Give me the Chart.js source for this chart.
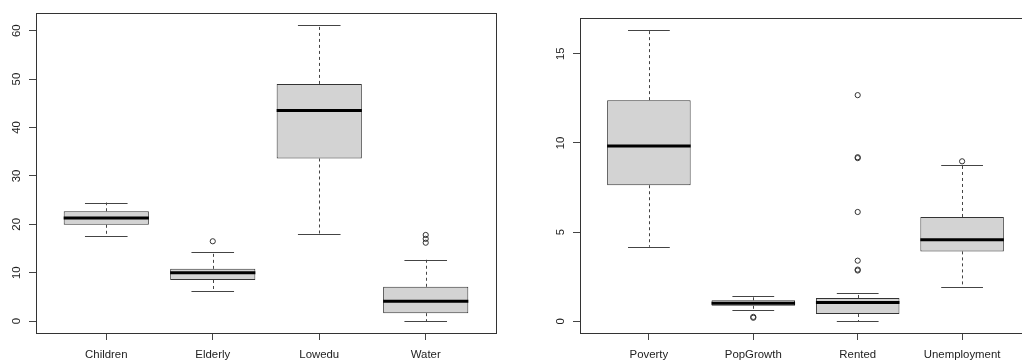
<!DOCTYPE html>
<html>
<head>
<meta charset="utf-8">
<script src="https://cdn.jsdelivr.net/npm/chart.js@4/dist/chart.umd.min.js"></script>
<style>
  html, body { margin: 0; padding: 0; background: #ffffff; overflow: hidden; width: 1022px; height: 360px; }
  #wrap { position: relative; width: 1022px; height: 360px; overflow: hidden; }
  canvas { position: absolute; top: 0; }
  #left { left: 0; }
  #right { left: 510px; }
</style>
</head>
<body>
<div id="wrap">
  <canvas id="left" width="510" height="360" style="width:510px;height:360px"></canvas>
  <canvas id="right" width="530" height="360" style="width:530px;height:360px"></canvas>
</div>
<script>
// ---- Left panel data ----
const leftCategories = ['Children', 'Elderly', 'Lowedu', 'Water'];
const leftWhiskerLow = [17.6, 6.3, 18.0, 0.0];
const leftQ1 = [19.9, 8.5, 33.6, 1.65];
const leftMedian = [21.3, 10.0, 43.5, 4.1];
const leftQ3 = [22.7, 10.8, 49.0, 7.1];
const leftWhiskerHigh = [24.5, 14.3, 61.2, 12.7];
const leftOutliers = [[], [16.5], [], [16.2, 17.0, 17.8]];
const leftTicks = [0, 10, 20, 30, 40, 50, 60];

// ---- Right panel data ----
const rightCategories = ['Poverty', 'PopGrowth', 'Rented', 'Unemployment'];
const rightWhiskerLow = [4.18, 0.64, 0.0, 1.91];
const rightQ1 = [7.63, 0.87, 0.41, 3.92];
const rightMedian = [9.83, 1.01, 1.05, 4.58];
const rightQ3 = [12.4, 1.18, 1.31, 5.85];
const rightWhiskerHigh = [16.35, 1.43, 1.58, 8.74];
const rightOutliers = [[], [0.2, 0.25], [2.85, 2.9, 3.4, 6.13, 9.15, 9.2, 12.68], [8.97]];
const rightTicks = [0, 5, 10, 15];

const FONT = { family: '"Liberation Sans", Arial, sans-serif', size: 11.4 };
const TEXT = '#222222';
const LINE = '#444444';

const boxPlugin = {
  id: 'rbox',
  beforeDatasetsDraw(chart, args, o) {
    const ctx = chart.ctx, xs = chart.scales.x, ys = chart.scales.y;
    ctx.save();
    ctx.strokeStyle = LINE;
    ctx.lineWidth = 1;
    o.lows.forEach((lo, i) => {
      const c = i + 1;
      const xc = Math.round(xs.getPixelForValue(c)) + 0.5;
      // dashed whiskers
      ctx.setLineDash([3, 3]);
      ctx.beginPath();
      ctx.moveTo(xc, ys.getPixelForValue(o.q3[i]));
      ctx.lineTo(xc, ys.getPixelForValue(o.highs[i]));
      ctx.moveTo(xc, ys.getPixelForValue(o.q1[i]));
      ctx.lineTo(xc, ys.getPixelForValue(lo));
      ctx.stroke();
      // caps
      ctx.setLineDash([]);
      ctx.beginPath();
      const xa = xs.getPixelForValue(c - 0.2), xb = xs.getPixelForValue(c + 0.2);
      const yh = Math.round(ys.getPixelForValue(o.highs[i])) + 0.5;
      const yl = Math.round(ys.getPixelForValue(lo)) + 0.5;
      ctx.moveTo(xa, yh); ctx.lineTo(xb, yh);
      ctx.moveTo(xa, yl); ctx.lineTo(xb, yl);
      ctx.stroke();
    });
    ctx.restore();
  },
  afterDatasetsDraw(chart, args, o) {
    const ctx = chart.ctx, xs = chart.scales.x, ys = chart.scales.y, a = chart.chartArea;
    ctx.save();
    ctx.strokeStyle = '#000000';
    ctx.lineWidth = 3;
    o.med.forEach((m, i) => {
      const c = i + 1;
      const y = ys.getPixelForValue(m);
      ctx.beginPath();
      ctx.moveTo(xs.getPixelForValue(c - 0.4), y);
      ctx.lineTo(xs.getPixelForValue(c + 0.4), y);
      ctx.stroke();
    });
    // frame
    ctx.strokeStyle = '#333333';
    ctx.lineWidth = 1;
    ctx.strokeRect(Math.round(a.left) + 0.5, Math.round(a.top) + 0.5,
                   Math.round(a.right - a.left), Math.round(a.bottom - a.top));
    ctx.restore();
  }
};

function makeChart(id, cats, lows, q1, med, q3, highs, outs, ticks, yWidth, pad) {
  const all = lows.concat(highs, outs.flat());
  const lo = Math.min(...all), hi = Math.max(...all);
  const ext = (hi - lo) * 0.04;
  const boxes = cats.map((c, i) => ({ x: i + 1, y: [q1[i], q3[i]] }));
  const pts = [];
  outs.forEach((arr, i) => arr.forEach(v => pts.push({ x: i + 1, y: v })));
  return new Chart(document.getElementById(id), {
    type: 'bar',
    data: {
      datasets: [
        {
          type: 'bar', data: boxes,
          backgroundColor: '#d3d3d3', borderColor: '#333333', borderWidth: 1,
          borderSkipped: false, barPercentage: 0.8, categoryPercentage: 1.0
        },
        {
          type: 'scatter', data: pts,
          pointStyle: 'circle', pointRadius: 2.6, pointHoverRadius: 2.6,
          backgroundColor: 'rgba(0,0,0,0)', borderColor: '#333333', borderWidth: 1
        }
      ]
    },
    options: {
      responsive: false, animation: false, devicePixelRatio: 1,
      layout: { padding: pad },
      plugins: {
        legend: { display: false }, tooltip: { enabled: false },
        rbox: { lows, q1, med, q3, highs }
      },
      scales: {
        x: {
          type: 'linear', min: 0.34, max: 4.66, offset: false,
          afterBuildTicks: s => { s.ticks = cats.map((c, i) => ({ value: i + 1 })); },
          afterFit: s => { s.height = 27; },
          ticks: {
            autoSkip: false, maxRotation: 0, minRotation: 0, padding: 8,
            font: FONT, color: TEXT,
            callback: v => cats[Math.round(v) - 1]
          },
          grid: { drawOnChartArea: false, drawTicks: true, tickLength: 7, color: LINE, offset: false },
          border: { display: false }
        },
        y: {
          type: 'linear', min: lo - ext, max: hi + ext,
          afterBuildTicks: s => { s.ticks = ticks.map(v => ({ value: v })); },
          afterFit: s => { s.width = yWidth; },
          ticks: {
            minRotation: 90, maxRotation: 90, crossAlign: 'center', padding: 5.5,
            font: FONT, color: TEXT,
            callback: v => String(v)
          },
          grid: { drawOnChartArea: false, drawTicks: true, tickLength: 7, color: LINE },
          border: { display: false }
        }
      }
    },
    plugins: [boxPlugin]
  });
}

makeChart('left', leftCategories, leftWhiskerLow, leftQ1, leftMedian, leftQ3, leftWhiskerHigh,
  leftOutliers, leftTicks, 36, { top: 13, right: 14, left: 0, bottom: 0 });
makeChart('right', rightCategories, rightWhiskerLow, rightQ1, rightMedian, rightQ3, rightWhiskerHigh,
  rightOutliers, rightTicks, 70, { top: 18, right: 9, left: 0, bottom: 0 });
</script>
</body>
</html>
